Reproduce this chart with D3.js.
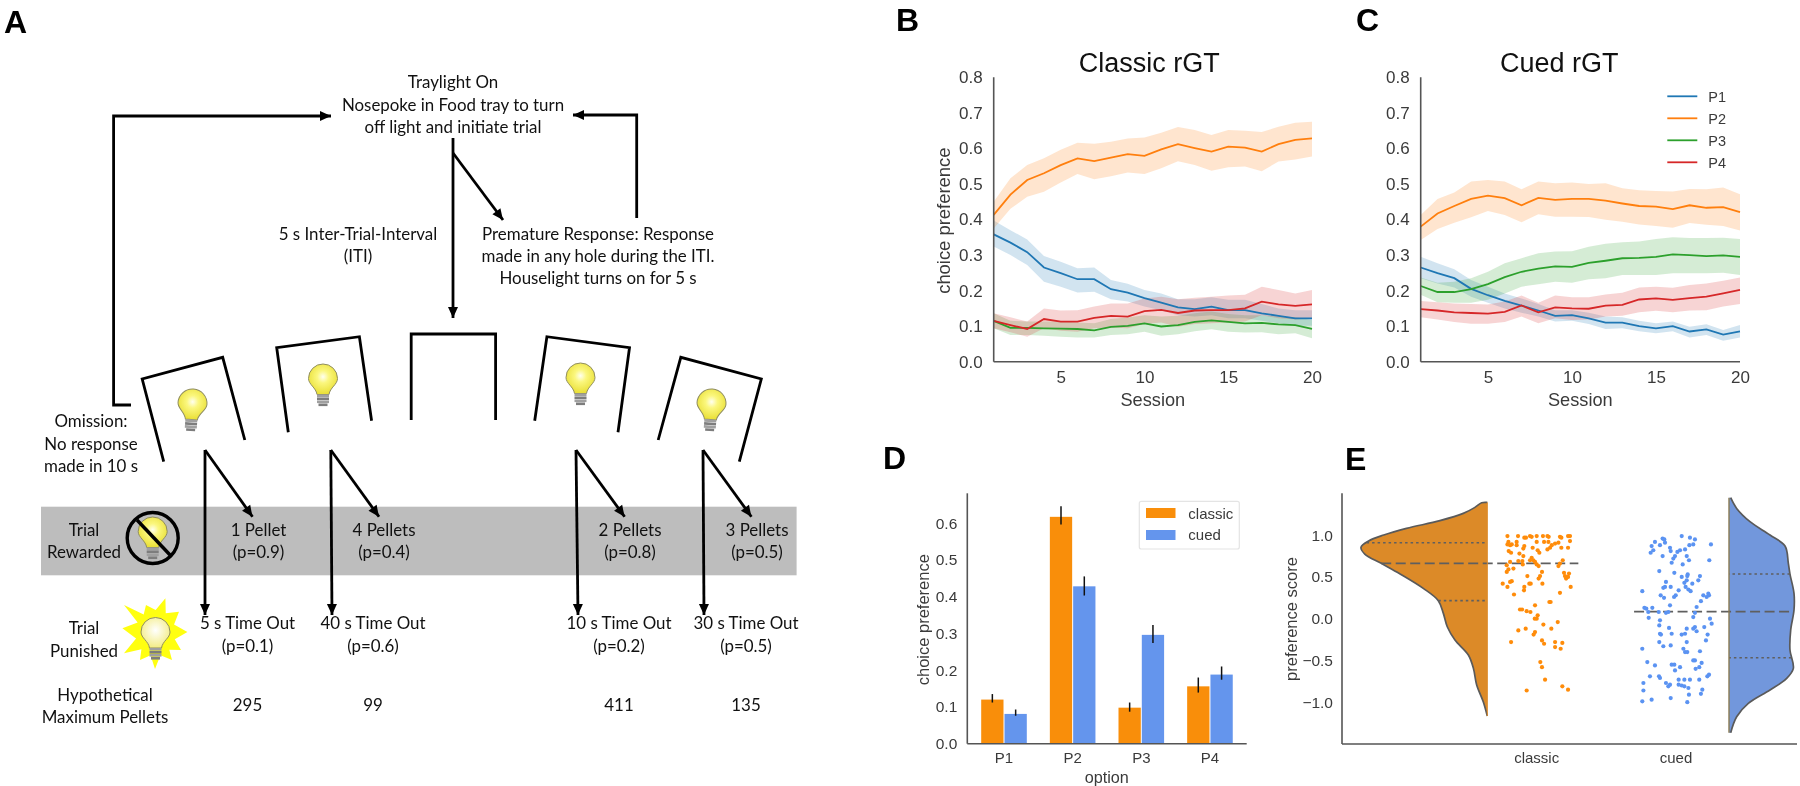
<!DOCTYPE html>
<html><head><meta charset="utf-8">
<script src="https://cdn.jsdelivr.net/npm/d3@7/dist/d3.min.js"></script>
<style>html,body{margin:0;background:#fff}svg{display:block;filter:blur(.5px)}</style>
</head><body><svg id="c" width="1800" height="786"></svg>
<script>
const sessions=d3.range(1,21);
const seriesNames=["P1","P2","P3","P4"];
const lineColors=["#1f77b4","#ff7f0e","#2ca02c","#d62728"];
// Panel B – Classic rGT
const bP1=[.358,.335,.308,.265,.249,.232,.232,.204,.194,.179,.166,.153,.148,.155,.145,.145,.136,.129,.122,.122];
const bP1Hi=[.397,.37,.344,.297,.281,.263,.265,.23,.219,.202,.192,.176,.176,.181,.174,.174,.162,.15,.145,.145];
const bP1Lo=[.324,.30,.272,.225,.211,.195,.197,.176,.169,.155,.145,.131,.127,.131,.122,.122,.115,.108,.101,.101];
const bP2=[.413,.47,.511,.53,.553,.572,.564,.574,.584,.579,.597,.612,.601,.591,.605,.602,.591,.612,.624,.628];
const bP2Hi=[.45,.516,.553,.572,.596,.616,.613,.619,.628,.631,.644,.66,.652,.638,.652,.65,.646,.661,.672,.675];
const bP2Lo=[.375,.43,.464,.478,.504,.528,.513,.522,.532,.528,.544,.564,.553,.537,.547,.549,.536,.563,.569,.577];
const bP3=[.115,.095,.095,.094,.093,.092,.088,.098,.101,.108,.099,.103,.112,.116,.112,.108,.109,.105,.103,.092];
const bP3Hi=[.136,.115,.113,.113,.113,.11,.108,.12,.124,.131,.127,.129,.136,.141,.134,.131,.131,.127,.125,.117];
const bP3Lo=[.094,.075,.075,.073,.07,.068,.068,.075,.077,.084,.073,.077,.086,.091,.084,.082,.083,.077,.08,.066];
const bP4=[.115,.103,.092,.12,.113,.113,.123,.129,.127,.142,.146,.137,.144,.145,.145,.15,.169,.161,.157,.161];
const bP4Hi=[.136,.125,.113,.15,.144,.145,.155,.164,.164,.178,.183,.176,.18,.183,.186,.188,.211,.202,.192,.202];
const bP4Lo=[.094,.083,.07,.094,.087,.084,.094,.096,.094,.106,.11,.098,.106,.108,.11,.113,.131,.122,.119,.122];
// Panel C – Cued rGT
const cP1=[.265,.249,.235,.205,.187,.171,.158,.144,.129,.131,.122,.11,.11,.1,.094,.1,.085,.091,.076,.085];
const cP1Hi=[.295,.277,.26,.23,.211,.192,.178,.162,.145,.145,.138,.127,.125,.115,.108,.113,.098,.105,.089,.103];
const cP1Lo=[.235,.22,.209,.183,.166,.15,.138,.127,.113,.115,.106,.092,.094,.086,.08,.086,.068,.075,.059,.068];
const cP2=[.38,.417,.438,.458,.467,.46,.44,.461,.455,.458,.458,.453,.445,.438,.436,.429,.44,.433,.435,.421];
const cP2Hi=[.413,.458,.476,.507,.511,.507,.485,.507,.502,.504,.5,.502,.488,.482,.48,.479,.486,.485,.49,.471];
const cP2Lo=[.342,.373,.391,.406,.424,.413,.392,.415,.408,.408,.407,.399,.394,.386,.382,.377,.39,.385,.382,.369];
const cP3=[.213,.196,.196,.204,.218,.238,.253,.262,.268,.267,.278,.284,.291,.292,.295,.302,.3,.297,.299,.295];
const cP3Hi=[.237,.222,.225,.235,.253,.277,.291,.305,.31,.311,.323,.332,.336,.338,.345,.35,.348,.348,.349,.345];
const cP3Lo=[.188,.167,.166,.166,.174,.192,.211,.218,.225,.222,.232,.235,.244,.244,.244,.249,.249,.249,.25,.244];
const cP4=[.148,.144,.139,.137,.135,.14,.158,.139,.153,.15,.149,.158,.16,.175,.178,.174,.179,.183,.192,.202];
const cP4Hi=[.171,.167,.164,.162,.161,.169,.186,.166,.186,.181,.181,.189,.194,.209,.211,.208,.216,.22,.228,.237];
const cP4Lo=[.125,.119,.112,.107,.107,.112,.127,.108,.122,.117,.119,.127,.129,.139,.143,.139,.144,.145,.155,.162];
// Panel D
const options=["P1","P2","P3","P4"];
const groups=["classic","cued"];
const groupColors=["#f98e0a","#6495ed"];
const classicMean=[.12,.617,.098,.156];
const classicHi=[.135,.646,.112,.18];
const classicLo=[.112,.596,.087,.139];
const cuedMean=[.081,.428,.296,.188];
const cuedHi=[.093,.455,.323,.21];
const cuedLo=[.076,.403,.274,.174];
// Panel E – violins
const classicViolinScore=[1.393,1.389,1.333,1.261,1.174,1.082,1.002,.93,.854,.774,.663,.535,.363,.216,.064,-.096,-.255,-.435,-.595,-.794,-.994,-1.166];
const classicViolinDensity=[0,.045,.098,.19,.375,.64,.82,.94,1,.97,.84,.69,.507,.388,.348,.317,.256,.15,.11,.084,.032,0];
const cuedViolinScore=[1.449,1.321,1.162,1.002,.87,.663,.535,.303,.104,-.136,-.375,-.595,-.715,-.854,-1.014,-1.174,-1.365];
const cuedViolinDensity=[.026,.118,.323,.631,.862,.913,.938,1,1,.949,.938,.99,.887,.631,.297,.118,.026];
const classicQuartiles=[.216,.663,.91];
const cuedQuartiles=[-.467,.084,.535];
// Panel E – individual subjects
const classicScore=[.99,.99,.97,.97,.99,.98,.99,.99,.99,.98,.98,.97,.99,.99,.92,.89,.89,.88,.92,.88,.87,.84,.85,.92,.92,.92,.90,.91,.93,.85,.85,.88,.85,.83,.82,.79,.81,.79,.78,.75,.73,.70,.70,.68,.69,.69,.68,.70,.65,.63,.65,.64,.66,.63,.60,.59,.56,.56,.51,.48,.51,.55,.54,.51,.50,.48,.45,.44,.42,.38,.42,.42,.42,.38,.34,.38,.29,.31,.16,.20,.20,.11,.11,.09,.08,.04,0,0,-.04,-.07,-.12,-.14,-.12,-.16,-.19,-.28,-.26,-.30,-.28,-.29,-.34,-.36,-.52,-.58,-.73,-.81,-.85,-.86];
const classicJitter=[-.21,-.134,-.089,-.077,-.048,-.036,0,.045,.077,.086,.167,.177,.225,.239,-.203,-.21,-.179,-.191,-.144,-.144,-.089,-.096,-.029,0,.053,.084,.132,.156,.239,.225,.177,.108,.096,.077,.007,.019,-.201,-.184,-.124,-.096,-.036,-.048,-.024,-.012,-.132,-.103,-.191,.187,0,.014,-.1,-.215,.167,.156,-.167,-.203,-.215,.038,.024,.014,-.067,.196,.232,.203,.225,.211,-.179,-.191,-.244,-.21,.041,-.053,-.043,-.089,-.091,.244,-.163,.167,-.012,.091,.1,-.12,-.105,-.072,-.045,.007,0,-.014,.151,.048,.105,-.132,-.079,-.012,-.022,-.184,.038,.053,.132,.184,.132,.172,.026,.038,.06,.184,.225,-.072];
const cuedScore=[.99,.97,.95,.96,.95,.92,.87,.88,.91,.88,.89,.89,.85,.81,.83,.82,.80,.82,.79,.75,.75,.72,.75,.70,.70,.67,.65,.57,.55,.53,.51,.50,.46,.51,.46,.43,.44,.38,.37,.38,.38,.35,.33,.42,.34,.28,.26,.33,.28,.25,.30,.26,.28,.28,.21,.16,.14,.13,.12,.13,.08,.08,.07,.08,.07,.02,.01,-.02,0,-.06,-.08,-.10,-.12,-.15,-.10,-.11,-.12,-.18,-.19,-.18,-.18,-.19,-.19,-.26,-.28,-.28,-.33,-.32,-.36,-.36,-.40,-.40,-.39,-.50,-.50,-.52,-.56,-.55,-.55,-.58,-.62,-.53,-.58,-.60,-.69,-.67,-.69,-.69,-.71,-.73,-.73,-.73,-.73,-.77,-.79,-.81,-.79,-.80,-.81,-.83,-.77,-.86,-.85,-.90,-.91,-.99,-.97,-.95,-1.0];
const cuedJitter=[.041,.1,.136,-.096,-.084,-.151,-.175,-.115,-.079,.096,.124,.251,-.043,-.038,.065,.029,.01,-.163,-.182,-.096,-.007,-.019,.077,.093,.239,-.031,.048,-.12,-.012,.084,.081,.041,.077,.172,.16,.06,-.072,-.079,-.091,-.038,.069,.089,.105,.117,.019,-.002,-.014,-.242,-.11,-.086,.232,.22,.237,.196,.179,-.043,.148,-.227,-.213,-.17,-.199,-.124,-.072,-.055,.136,.124,-.196,-.115,.244,.256,-.12,.136,.124,.148,.203,-.05,.077,-.115,-.108,-.031,.065,.041,.227,.215,-.12,.077,-.091,-.038,-.242,.053,.065,.081,.172,.136,.124,-.206,-.151,-.031,-.012,.029,-.007,.184,.167,.141,.225,.237,-.187,-.122,-.115,.019,.06,.1,.167,-.072,-.043,-.055,.019,.041,.06,.089,-.234,-.234,.189,.179,.093,-.242,-.175,-.038,.081];

const svg=d3.select("#c");
const SANS="'Liberation Sans',Arial,sans-serif";
const spine="#555", txt="#3a3a3a";
function label(t,x,y,size,o={}){
  const s=svg.append("text").attr("x",x).attr("y",y).text(t)
   .attr("font-family",o.font||SANS).attr("font-size",size).attr("fill",o.fill||txt)
   .attr("text-anchor",o.anchor||"middle").attr("font-weight",o.weight||"normal");
  if(o.rotate) s.attr("transform",`rotate(${o.rotate} ${x} ${y})`);
  return s;
}
function segment(x1,y1,x2,y2,color=spine,w=1.6){
  return svg.append("line").attr("x1",x1).attr("y1",y1).attr("x2",x2).attr("y2",y2).attr("stroke",color).attr("stroke-width",w);
}
function styleAxis(g,size){
  g.select(".domain").remove();
  g.selectAll(".tick line").remove();
  g.selectAll("text").attr("font-family",SANS).attr("font-size",size).attr("fill",txt);
}
// panel letters
[["A",4,33],["B",896,31],["C",1356,31],["D",883,469],["E",1345,470]].forEach(d=>
  label(d[0],d[1],d[2],32,{anchor:"start",weight:"bold",fill:"#000"}));

/* ---------- line panels ---------- */
function linePanel(left,right,title,titleX,sers,showYLabel,legend){
  const x=d3.scaleLinear().domain([1,20]).range([left,right]);
  const y=d3.scaleLinear().domain([0,.8]).range([361.7,77.3]);
  const area=d3.area().x((d,i)=>x(sessions[i])).y0(d=>y(d[1])).y1(d=>y(d[0]));
  const line=d3.line().x((d,i)=>x(sessions[i])).y(d=>y(d));
  sers.forEach((s,i)=>{
    svg.append("path").attr("d",area(d3.zip(s[1],s[2]))).attr("fill",lineColors[i]).attr("fill-opacity",.2);
  });
  sers.forEach((s,i)=>{
    svg.append("path").attr("d",line(s[0])).attr("fill","none").attr("stroke",lineColors[i]).attr("stroke-width",1.8);
  });
  segment(left,77.3,left,361.7); segment(left,361.7,right,361.7);
  svg.append("g").attr("transform",`translate(${left},0)`)
    .call(d3.axisLeft(y).tickValues(d3.range(0,.81,.1)).tickFormat(d3.format(".1f")).tickSize(0).tickPadding(11))
    .call(g=>styleAxis(g,17));
  svg.append("g").attr("transform",`translate(0,361.7)`)
    .call(d3.axisBottom(x).tickValues([5,10,15,20]).tickSize(0).tickPadding(9.5))
    .call(g=>styleAxis(g,17));
  label("Session",(left+right)/2,406,18.2);
  label(title,titleX,71.7,27,{fill:"#111"});
  if(showYLabel) label("choice preference",950.5,220.7,18.4,{rotate:-90});
  if(legend){
    seriesNames.forEach((n,i)=>{
      const ly=96.3+22*i;
      segment(1667.3,ly,1697.3,ly,lineColors[i],1.8);
      label(n,1708.3,ly+5.5,14.5,{anchor:"start"});
    });
  }
}
linePanel(993.7,1312,"Classic rGT",1149.3,[[bP1,bP1Lo,bP1Hi],[bP2,bP2Lo,bP2Hi],[bP3,bP3Lo,bP3Hi],[bP4,bP4Lo,bP4Hi]],true,false);
linePanel(1420.7,1740,"Cued rGT",1559.3,[[cP1,cP1Lo,cP1Hi],[cP2,cP2Lo,cP2Hi],[cP3,cP3Lo,cP3Hi],[cP4,cP4Lo,cP4Hi]],false,true);

/* ---------- bar panel ---------- */
(function(){
  const x=d3.scaleBand().domain(options).range([969.7,1244.3]);
  const inner=d3.scaleBand().domain(groups).range([11,57.6]);
  const y=d3.scaleLinear().domain([0,.681]).range([743.7,493.3]);
  const rows=[[classicMean,classicLo,classicHi],[cuedMean,cuedLo,cuedHi]];
  groups.forEach((g,gi)=>{
    options.forEach((o,i)=>{
      const bx=x(o)+inner(g);
      svg.append("rect").attr("x",bx+.5).attr("width",inner.bandwidth()-1)
        .attr("y",y(rows[gi][0][i])).attr("height",y(0)-y(rows[gi][0][i])).attr("fill",groupColors[gi]);
      const cx=bx+inner.bandwidth()/2;
      segment(cx,y(rows[gi][1][i]),cx,y(rows[gi][2][i]),"#111",1.5);
    });
  });
  segment(967.3,493.3,967.3,743.7); segment(967.3,743.7,1246.7,743.7);
  svg.append("g").attr("transform","translate(967.3,0)")
    .call(d3.axisLeft(y).tickValues(d3.range(0,.61,.1)).tickFormat(d3.format(".1f")).tickSize(0).tickPadding(10))
    .call(g=>styleAxis(g,15.5));
  svg.append("g").attr("transform","translate(0,743.7)")
    .call(d3.axisBottom(x).tickSize(0).tickPadding(8.5))
    .call(g=>styleAxis(g,15));
  label("option",1106.7,782.7,16.2);
  label("choice preference",929.5,619.7,16.5,{rotate:-90});
  svg.append("rect").attr("x",1139.3).attr("y",501.3).attr("width",100).attr("height",47.7).attr("rx",2)
    .attr("fill","#fff").attr("stroke","#e4e4e4").attr("stroke-width",1.2);
  groups.forEach((g,i)=>{
    svg.append("rect").attr("x",1146).attr("y",508+22*i).attr("width",29.5).attr("height",10).attr("fill",groupColors[i]);
    label(g,1188.3,518.5+21.6*i,15,{anchor:"start"});
  });
})();

/* ---------- raincloud panel ---------- */
(function(){
  const y=d3.scaleLinear().domain([-1.5,1.5]).range([743.95,493.45]);
  const x=d3.scaleLinear().domain([0,1]).range([1536.7,1676]);
  const wL=d3.scaleLinear().domain([0,1]).range([1487.3,1361]);
  const wR=d3.scaleLinear().domain([0,1]).range([1729,1794]);
  function violin(scores,dens,w,fill,quart,medFrom,medTo){
    const pts=d3.zip(scores,dens);
    const a=d3.area().curve(d3.curveCatmullRom).y(d=>y(d[0])).x0(w(0)).x1(d=>w(d[1]));
    svg.append("path").attr("d",a(pts)).attr("fill",fill);
    const l=d3.line().curve(d3.curveCatmullRom).y(d=>y(d[0])).x(d=>w(d[1]));
    svg.append("path").attr("d",l(pts)).attr("fill","none").attr("stroke","#5a5a5a").attr("stroke-width",1.7);
    const dAt=d3.scaleLinear().domain(scores).range(dens);
    quart.forEach((q,i)=>{
      const mid=i===1;
      svg.append("line").attr("x1",mid?medFrom(q,dAt,w):w(dAt(q))).attr("x2",mid?medTo(q,dAt,w):w(0))
        .attr("y1",y(q)).attr("y2",y(q)).attr("stroke","#5f5f5f").attr("stroke-width",mid?1.8:1.6)
        .attr("stroke-dasharray",mid?"10,4.5":"2.5,3");
    });
  }
  violin(classicViolinScore,classicViolinDensity,wL,"#dc8a28",classicQuartiles,(q,f,w)=>w(f(q)),()=>x(.299));
  segment(wL(0),y(1.393),wL(0),y(-1.166),"#dc8a28",1);
  violin(cuedViolinScore,cuedViolinDensity,wR,"#7297dc",cuedQuartiles,()=>x(1-.301),(q,f,w)=>w(f(q)));
  segment(wR(0),y(1.449),wR(0),y(-1.365),"#8a7a50",1.4);
  svg.append("g").selectAll("circle").data(d3.zip(classicJitter,classicScore)).join("circle")
    .attr("cx",d=>x(d[0])).attr("cy",d=>y(d[1])).attr("r",2.1).attr("fill","#ff8c0a");
  svg.append("g").selectAll("circle").data(d3.zip(cuedJitter,cuedScore)).join("circle")
    .attr("cx",d=>x(1+d[0])).attr("cy",d=>y(d[1])).attr("r",2.1).attr("fill","#5b93f2");
  segment(1342,493.3,1342,744); segment(1342,744,1797,744);
  svg.append("g").attr("transform","translate(1342,0)")
    .call(d3.axisLeft(y).tickValues([-1,-.5,0,.5,1]).tickFormat(d3.format(".1f")).tickSize(0).tickPadding(9))
    .call(g=>styleAxis(g,15.5));
  groups.forEach((g,i)=>label(g,x(i),762.7,15));
  label("preference score",1297,619,16.5,{rotate:-90});
})();

/* ---------- schematic ---------- */
(function(){
  const FONT="Lato,'Open Sans',sans-serif", FS=16.9, TC="#111";
  const t=(s,x,y)=>label(s,x,y,FS,{font:FONT,fill:TC});
  const defs=svg.append("defs");
  const rg=defs.append("radialGradient").attr("id","glass").attr("cx",.5).attr("cy",.42).attr("r",.58);
  rg.append("stop").attr("offset","0").attr("stop-color","#fffff0");
  rg.append("stop").attr("offset",".35").attr("stop-color","#fbf77e");
  rg.append("stop").attr("offset","1").attr("stop-color","#e9df35");
  const rg2=defs.append("radialGradient").attr("id","glass2").attr("cx",.5).attr("cy",.42).attr("r",.6);
  rg2.append("stop").attr("offset","0").attr("stop-color","#ffffff");
  rg2.append("stop").attr("offset","1").attr("stop-color","#f3ec80");
  function bulb(cx,cy,rot,fill="url(#glass)"){
    const g=svg.append("g").attr("transform",`translate(${cx},${cy}) rotate(${rot})`);
    g.append("path").attr("d","M-6,9 C-7,2 -14.5,-1 -14.5,-7 A14.5,14.5 0 0 1 14.5,-7 C14.5,-1 7,2 6,9 Z")
      .attr("fill",fill).attr("stroke","#8f8d60").attr("stroke-width",1);
    [10,13,16,19].forEach((yy,i)=>g.append("rect").attr("x",-6+(i===3?1.5:0)).attr("y",yy-1).attr("width",12-(i===3?3:0)).attr("height",2.6)
      .attr("fill",i%2?"#7d7d7d":"#a0a0a0"));
  }
  // grey band
  svg.append("rect").attr("x",41).attr("y",506.7).attr("width",755.6).attr("height",68.6).attr("fill","#bdbdbd");
  // holes
  const holes=[[[163.7,461.7],[142.2,379],[222.7,357.3],[244.8,440]],
    [[288.3,432.3],[276.7,347.7],[359.4,336.7],[371.6,420.7]],
    [[411.2,420],[411.2,334],[495.6,334],[495.6,420]],
    [[534.7,420.7],[546.9,336.7],[629.5,347.7],[618,432.3]],
    [[658.2,440],[680.8,357.3],[761.3,379],[739.3,461.7]]];
  holes.forEach(h=>svg.append("path").attr("d",d3.line()(h)).attr("fill","none").attr("stroke","#000").attr("stroke-width",2.8));
  [[192,410.5,4],[323,385.5,0],[580.5,384.5,0],[711,410.5,4]].forEach(b=>bulb(b[0],b[1],b[2]));
  // arrows
  function head(x1,y1,x2,y2){
    const a=Math.atan2(y2-y1,x2-x1), L=11, W=5;
    const bx=x2-L*Math.cos(a), by=y2-L*Math.sin(a);
    svg.append("polygon").attr("points",[[x2,y2],[bx-W*Math.sin(a),by+W*Math.cos(a)],[bx+W*Math.sin(a),by-W*Math.cos(a)]].join(" ")).attr("fill","#000");
  }
  function arrow(pts,w=2.8){
    const n=pts.length, a=pts[n-2], b=pts[n-1];
    svg.append("path").attr("d",d3.line()(pts)).attr("fill","none").attr("stroke","#000").attr("stroke-width",w);
    head(a[0],a[1],b[0],b[1]);
  }
  arrow([[131,405],[113.6,405],[113.6,116],[331,116]]);
  arrow([[636.7,218],[636.7,115],[573,115]]);
  arrow([[453,138],[453,318]]);
  arrow([[453,153],[503,220]]);
  [[205,205,252.5],[330.8,332,379],[576,578,624.6],[703,704,751.4]].forEach(a=>{
    arrow([[a[0],450],[a[1],615]]);
    arrow([[a[0],450],[a[2],516.7]]);
  });
  // no-light sign
  bulb(152.7,538.5,0);
  svg.append("circle").attr("cx",152.7).attr("cy",538).attr("r",25.5).attr("fill","none").attr("stroke","#000").attr("stroke-width",3.4);
  svg.append("line").attr("x1",137).attr("y1",520).attr("x2",171).attr("y2",556).attr("stroke","#000").attr("stroke-width",3.4);
  // burst
  const bc=[155.5,633];
  const spikes=[[165.4,598.3],[179,611.7],[187.4,632],[181,650],[172,660],[155,669],[140,660],[124,653.3],[122.4,628.3],[124,605],[146,605]];
  const burst=[];
  spikes.forEach((p,i)=>{
    const q=spikes[(i+1)%spikes.length];
    burst.push(p);
    const mx=(p[0]+q[0])/2-bc[0], my=(p[1]+q[1])/2-bc[1], m=Math.hypot(mx,my);
    burst.push([bc[0]+mx/m*20,bc[1]+my/m*23]);
  });
  svg.append("polygon").attr("points",burst.join(" ")).attr("fill","#ffff10");
  bulb(155.5,639,0,"url(#glass2)");
  // text
  t("Traylight On",453,88); t("Nosepoke in Food tray to turn",453,110.7); t("off light and initiate trial",453,132.7);
  t("5 s Inter-Trial-Interval",358,240); t("(ITI)",358,262);
  t("Premature Response: Response",598,240); t("made in any hole during the ITI.",598,262); t("Houselight turns on for 5 s",598,284);
  t("Omission:",91,427); t("No response",91,450); t("made in 10 s",91,472);
  t("Trial",84,536); t("Rewarded",84,558);
  t("Trial",84,634); t("Punished",84,656.7);
  t("Hypothetical",105,701); t("Maximum Pellets",105,723);
  const rewardX=[258.5,384,630,757], rewardT=["1 Pellet","4 Pellets","2 Pellets","3 Pellets"], rewardP=["(p=0.9)","(p=0.4)","(p=0.8)","(p=0.5)"];
  const punishX=[247.5,373,619,746], punishT=["5 s Time Out","40 s Time Out","10 s Time Out","30 s Time Out"], punishP=["(p=0.1)","(p=0.6)","(p=0.2)","(p=0.5)"];
  const maxPellets=["295","99","411","135"];
  rewardX.forEach((x,i)=>{t(rewardT[i],x,536);t(rewardP[i],x,558);});
  punishX.forEach((x,i)=>{t(punishT[i],x,629);t(punishP[i],x,652);t(maxPellets[i],x,711);});
})();
</script></body></html>
